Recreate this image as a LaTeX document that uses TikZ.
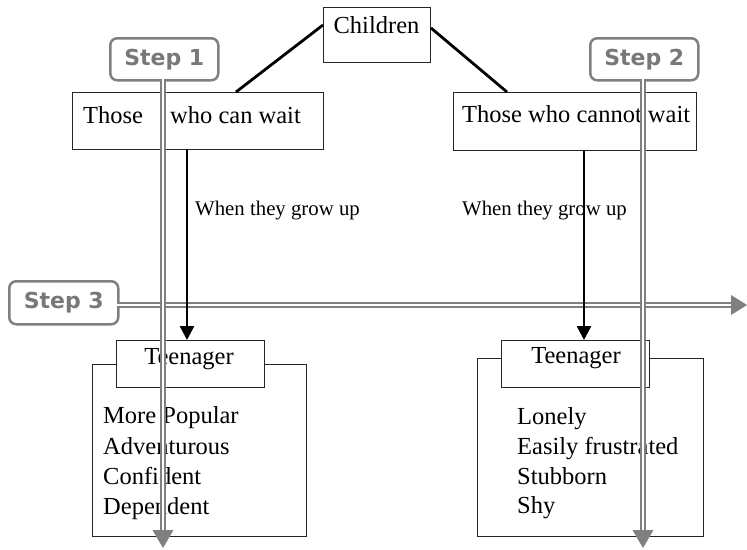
\documentclass[tikz,border=0pt]{standalone}
\usepackage{fontspec}
\setmainfont{Liberation Serif}
\newfontfamily\stepfont{DejaVu Sans}
\usetikzlibrary{arrows.meta}
\definecolor{stepgray}{RGB}{128,128,128}
\definecolor{steptext}{RGB}{120,120,120}
\begin{document}
\begin{tikzpicture}[x=1pt,y=-1pt,
  box/.style={draw=black!85, line width=1.2pt, fill=white, inner sep=0pt, anchor=north west},
  txt/.style={font=\fontsize{24.5}{29}\selectfont, inner sep=0pt, anchor=base west},
  smalltxt/.style={font=\fontsize{20.8}{25}\selectfont, inner sep=0pt, anchor=base west},
  stepbox/.style={draw=stepgray, line width=2.5pt, rounded corners=7pt, fill=white,
    inner sep=0pt, anchor=north west,
    font=\stepfont\bfseries\fontsize{22}{26}\selectfont, text=steptext},
  steparrow/.style={draw=stepgray, double=white, double distance=2pt, line width=1.7pt},
  conn/.style={line width=2.8pt, black},
  blackarrow/.style={line width=2.6pt, black, -{Triangle[length=14pt,width=14pt]}}
]
\useasboundingbox (0,0) rectangle (747,549);

% top box
\node[box, minimum width=107pt, minimum height=55pt] (ch) at (323,7) {};
\node[txt, anchor=base] (cht) at (376.5,33) {Children};

% second row
\node[box, minimum width=251pt, minimum height=57pt] (lw) at (72,92) {};
\node[txt] (lwt1) at (83,123) {Those};
\node[txt] (lwt2) at (170,123) {who can wait};
\node[box, minimum width=243pt, minimum height=58pt] (rw) at (453,92) {};
\node[txt] (rwt) at (462,122) {Those who cannot wait};

% labels
\node[smalltxt] (ll) at (195,215) {When they grow up};
\node[smalltxt] (rl) at (462,215) {When they grow up};

% lower boxes
\node[box, minimum width=214pt, minimum height=172pt] (lb) at (92,364) {};
\node[box, minimum width=148pt, minimum height=47pt] (lt) at (116,340) {};
\node[txt, anchor=base] (ltt) at (189,364) {Teenager};
\node[txt] (l1) at (103,423) {More Popular};
\node[txt] (l2) at (103,454) {Adventurous};
\node[txt] (l3) at (103,484) {Confident};
\node[txt] (l4) at (103,514) {Dependent};

\node[box, minimum width=226pt, minimum height=178pt] (rb) at (477,358) {};
\node[box, minimum width=148pt, minimum height=47pt] (rt) at (501,340) {};
\node[txt, anchor=base] (rtt) at (576,363) {Teenager};
\node[txt] (r1) at (517,424) {Lonely};
\node[txt] (r2) at (517,454) {Easily frustrated};
\node[txt] (r3) at (517,484) {Stubborn};
\node[txt] (r4) at (517,513) {Shy};

% connectors from Children
\coordinate (cl) at (323,25);
\coordinate (cr) at (431,28);
\coordinate (lwtop) at (236,92);
\coordinate (rwtop) at (507,92);
\draw[conn] (cl) -- (lwtop);
\draw[conn] (cr) -- (rwtop);

% step boxes
\node[stepbox, minimum width=108pt, minimum height=42pt] (s1) at (109,37) {Step 1};
\node[stepbox, minimum width=108pt, minimum height=42pt] (s2) at (589,37) {Step 2};
\node[stepbox, minimum width=109pt, minimum height=43pt] (s3) at (8,280) {Step 3};

% step arrows
\coordinate (s1a) at (163,79);
\coordinate (s1b) at (163,530);
\coordinate (s1e) at (163,548);
\coordinate (s2a) at (643,79);
\coordinate (s2b) at (643,530);
\coordinate (s2e) at (643,548);
\coordinate (s3a) at (117,305);
\coordinate (s3b) at (731,305);
\coordinate (s3e) at (747,305);
\draw[steparrow] (s3a) -- (s3b);
\draw[steparrow] (s1a) -- (s1b);
\draw[steparrow] (s2a) -- (s2b);
\fill[stepgray] (s1e) -- ++(-10.5,-18) -- ++(21,0) -- cycle;
\fill[stepgray] (s2e) -- ++(-10.5,-18) -- ++(21,0) -- cycle;
\fill[stepgray] (s3e) -- ++(-16,-10) -- ++(0,20) -- cycle;

% black arrows
\coordinate (la) at (187,149);
\coordinate (lz) at (187,340);
\coordinate (ra) at (584,150);
\coordinate (rz) at (584,340);
\draw[blackarrow] (la) -- (lz);
\draw[blackarrow] (ra) -- (rz);
\end{tikzpicture}
\end{document}
